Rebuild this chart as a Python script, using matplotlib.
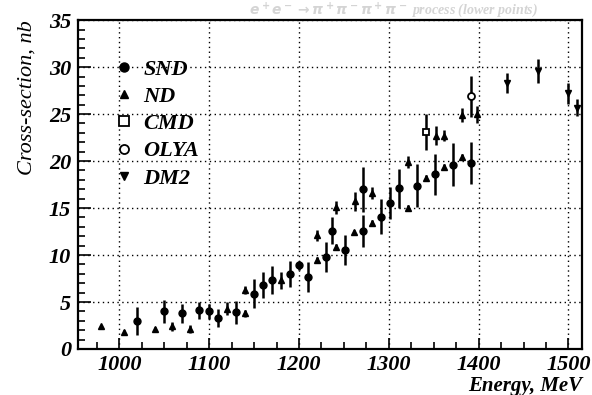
import matplotlib
matplotlib.use('Agg')
import matplotlib.pyplot as plt
from matplotlib.ticker import MultipleLocator

plt.rcParams['font.family'] = 'Liberation Serif'
plt.rcParams['font.weight'] = 'bold'
plt.rcParams['font.style'] = 'italic'

# SND - filled circles
snd_e = [1020, 1050, 1070, 1089, 1100, 1110, 1130, 1150, 1160, 1170, 1190, 1200,
         1210, 1230, 1237, 1251, 1271, 1271, 1291, 1301, 1311, 1331, 1351, 1371, 1392]
snd_s = [3.0, 4.0, 3.8, 4.1, 4.0, 3.3, 3.9, 5.9, 6.8, 7.3, 8.0, 8.9,
         7.7, 9.8, 12.6, 10.5, 17.0, 12.6, 14.1, 15.5, 17.1, 17.4, 18.6, 19.6, 19.8]
snd_err = [1.5, 1.2, 1.0, 0.9, 0.8, 1.0, 1.2, 1.5, 1.4, 1.5, 1.4, 0.5,
           1.6, 1.6, 1.4, 1.6, 2.4, 1.7, 1.9, 1.7, 2.1, 2.3, 2.2, 2.3, 2.2]

# ND - filled triangles
nd_e = [980, 1005, 1040, 1059, 1079, 1120, 1140, 1140, 1180, 1220, 1220, 1241, 1241,
        1261, 1262, 1281, 1281, 1321, 1321, 1341, 1352, 1361, 1361, 1382, 1382, 1398]
nd_s = [2.4, 1.8, 2.1, 2.4, 2.1, 4.3, 6.3, 3.8, 7.3, 9.5, 12.1, 10.9, 15.1,
        12.4, 15.7, 13.4, 16.6, 15.0, 19.9, 18.2, 22.7, 19.4, 22.7, 20.4, 24.9, 25.0]
nd_err = [0.2, 0.2, 0.2, 0.5, 0.45, 0.7, 0.4, 0.4, 0.9, 0.3, 0.6, 0.3, 0.7,
          0.3, 1.0, 0.3, 0.6, 0.3, 0.6, 0.3, 1.0, 0.3, 0.6, 0.3, 0.7, 0.9]

# CMD - open square
cmd_e = [1341]
cmd_s = [23.1]
cmd_err = [1.95]

# OLYA - open circle
olya_e = [1392]
olya_s = [26.9]
olya_err = [2.2]

# DM2 - triangles down
dm2_e = [1432, 1466, 1500, 1510]
dm2_s = [28.3, 29.6, 27.2, 25.7]
dm2_err = [1.1, 1.3, 1.1, 0.9]

fig = plt.figure(figsize=(5.92, 3.95), dpi=100)
ax = fig.add_axes([0.1318, 0.1165, 0.8512, 0.8325])

ebkw = dict(ls='none', color='black', ecolor='black', elinewidth=1.8, capsize=0)
ax.errorbar(snd_e, snd_s, yerr=snd_err, fmt='o', ms=5, label='SND', **ebkw)
ax.errorbar(nd_e, nd_s, yerr=nd_err, fmt='^', ms=4, label='ND', **ebkw)
ax.errorbar(cmd_e, cmd_s, yerr=cmd_err, fmt='s', ms=5, mfc='white', mew=1.3,
            label='CMD', **ebkw)
ax.errorbar(olya_e, olya_s, yerr=olya_err, fmt='o', ms=5, mfc='white', mew=1.3,
            label='OLYA', **ebkw)
ax.errorbar(dm2_e, dm2_s, yerr=dm2_err, fmt='v', ms=4, label='DM2', **ebkw)

ax.set_xlim(954, 1515)
ax.set_ylim(0, 35)
ax.xaxis.set_major_locator(MultipleLocator(100))
ax.xaxis.set_minor_locator(MultipleLocator(25))
ax.yaxis.set_major_locator(MultipleLocator(5))
ax.yaxis.set_minor_locator(MultipleLocator(1))
ax.tick_params(which='both', direction='in', top=False, right=False,
               labelsize=16, width=1.2)
ax.tick_params(axis='x', which='major', length=8, pad=4)
ax.tick_params(axis='y', which='major', length=9, pad=5)
ax.tick_params(which='minor', length=5)
for s in ax.spines.values():
    s.set_linewidth(1.6)
ax.grid(True, which='major', ls=(0, (1, 2.5)), color='black', lw=1.0)
ax.set_axisbelow(True)

ax.set_ylabel('Cross-section, nb', fontsize=16, loc='top')
ax.yaxis.set_label_coords(-0.082, 1.0)
ax.text(1.0, -0.083, 'Energy, MeV', transform=ax.transAxes, ha='right',
        va='top', fontsize=15)

handles, labels = ax.get_legend_handles_labels()
handles = [h[0] for h in handles]
leg = ax.legend(handles, labels, loc='upper left', bbox_to_anchor=(0.055, 0.915),
                frameon=False, fontsize=16, handlelength=0.6, handletextpad=0.6,
                labelspacing=0.3, borderpad=0.0, markerscale=1.3)

fig.text(0.42, 1.0, r'$e^+e^-\to\pi^+\pi^-\pi^+\pi^-$ process (lower points)',
         color='#d4d4d4', fontsize=10, va='top', ha='left')

fig.savefig('out.png', dpi=100)
